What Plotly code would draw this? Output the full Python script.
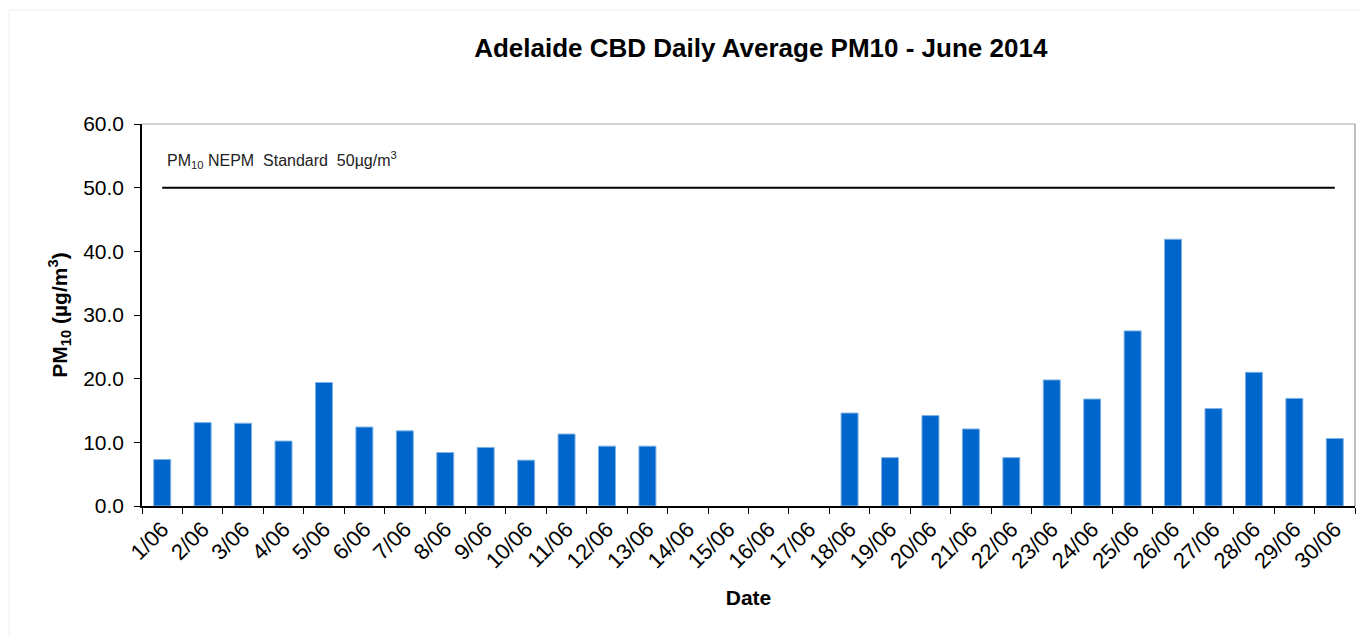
import plotly.graph_objects as go

dates = [f"{d}/06" for d in range(1, 31)]
pm10 = [7.3, 13.1, 13.0, 10.2, 19.4, 12.4, 11.8, 8.4, 9.2, 7.2,
        11.3, 9.4, 9.4, None, None, None, None, 14.6, 7.6, 14.2,
        12.1, 7.6, 19.8, 16.8, 27.5, 41.9, 15.3, 21.0, 16.9, 10.6]
standard = [50.0] * 30
y_ticks = [0, 10, 20, 30, 40, 50, 60]

font = "Liberation Sans, Arial, sans-serif"

fig = go.Figure()
fig.add_trace(go.Bar(x=dates, y=pm10, marker=dict(color="#0066CC", line=dict(color="#7FB2E5", width=1)),
                     name="PM10"))
fig.add_trace(go.Scatter(x=dates, y=standard, mode="lines", line=dict(color="black", width=2),
                         name="Standard"))

# paper-coordinate helpers for the faint outer frame (paper is 1360x629)
pw, ph, ml, mr, mt, mb = 1360, 629, 134, 13, 116, 131
fx0 = -(ml - 1) / (pw - ml - mr)
fy1 = 1 + (mt - 2) / (ph - mt - mb)

fig.update_layout(
    width=pw, height=ph,
    paper_bgcolor="white", plot_bgcolor="white",
    margin=dict(l=ml, r=mr, t=mt, b=mb),
    showlegend=False,
    bargap=0.58,
    font=dict(family=font, color="black"),
    title=dict(text="<b>Adelaide CBD Daily Average PM10 - June 2014</b>",
               x=0.5535, xanchor="center", y=0.937, yanchor="middle",
               font=dict(size=26, family=font, color="black")),
    xaxis=dict(
        title=dict(text="<b>Date</b>", font=dict(size=21, family=font), standoff=18),
        tickangle=-45, tickfont=dict(size=22, family=font),
        ticks="outside", tickson="boundaries", ticklen=6, tickcolor="black",
        showline=True, linecolor="black", linewidth=1.5, mirror=False,
        showgrid=False, range=[-0.5, 29.5],
    ),
    yaxis=dict(
        title=dict(text="<b>PM<sub>10</sub> (µg/m<sup>3</sup>)</b>", font=dict(size=21, family=font), standoff=10),
        range=[0, 60], tickvals=y_ticks, tickformat=".1f",
        tickfont=dict(size=21, family=font), ticklabelstandoff=6,
        ticks="outside", ticklen=6, tickcolor="black",
        showline=True, linecolor="black", linewidth=1.5,
        showgrid=False, zeroline=False,
    ),
    annotations=[dict(
        text="PM<sub>10</sub> NEPM  Standard  50µg/m<sup>3</sup>",
        xref="paper", yref="y", x=0.019, y=54.3, xanchor="left", yanchor="middle",
        showarrow=False, font=dict(size=16, family=font, color="#222222"),
    )],
    shapes=[
        dict(type="line", xref="paper", yref="paper", x0=0, x1=1, y0=1, y1=1,
             line=dict(color="#AAAAAA", width=1)),
        dict(type="line", xref="paper", yref="paper", x0=1, x1=1, y0=0, y1=1,
             line=dict(color="#AAAAAA", width=1.5)),
        dict(type="line", xref="paper", yref="paper", x0=fx0, x1=fx0, y0=-1, y1=fy1,
             line=dict(color="#EEEEEE", width=1)),
        dict(type="line", xref="paper", yref="paper", x0=fx0, x1=1.05, y0=fy1, y1=fy1,
             line=dict(color="#EEEEEE", width=1)),
    ],
)

fig.write_html("out.html")
